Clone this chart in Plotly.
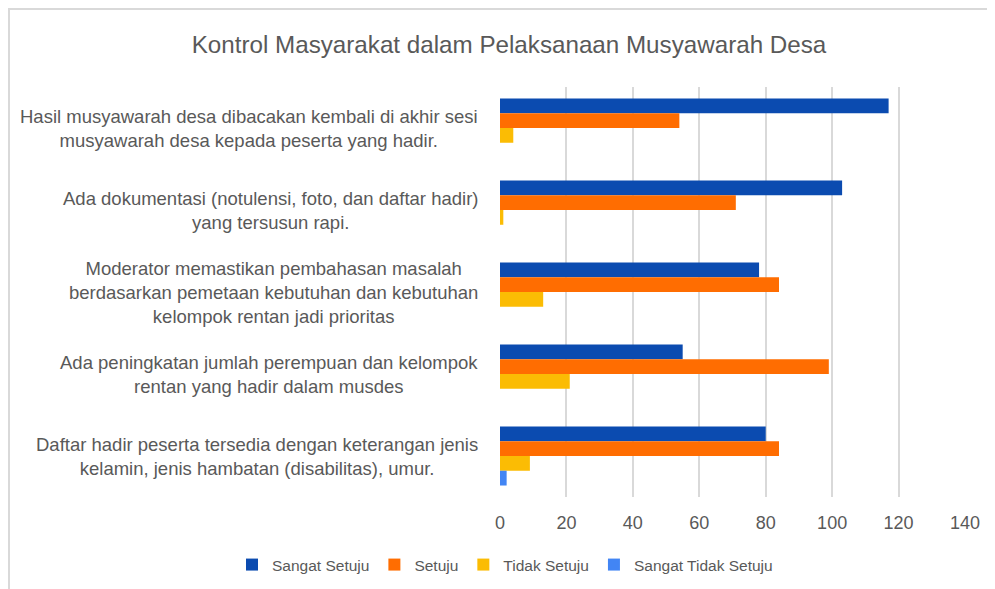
import plotly.graph_objects as go

categories = [
    "Hasil musyawarah desa dibacakan kembali di akhir sesi<br>musyawarah desa kepada peserta yang hadir.",
    "Ada dokumentasi (notulensi, foto, dan daftar hadir)<br>yang tersusun rapi.",
    "Moderator memastikan pembahasan masalah<br>berdasarkan pemetaan kebutuhan dan kebutuhan<br>kelompok rentan jadi prioritas",
    "Ada peningkatan jumlah perempuan dan kelompok<br>rentan yang hadir dalam musdes",
    "Daftar hadir peserta tersedia dengan keterangan jenis<br>kelamin, jenis hambatan (disabilitas), umur.",
]
series_names = ["Sangat Setuju", "Setuju", "Tidak Setuju", "Sangat Tidak Setuju"]
sangat_setuju = [117, 103, 78, 55, 80]
setuju = [54, 71, 84, 99, 84]
tidak_setuju = [4, 1, 13, 21, 9]
sangat_tidak_setuju = [0, 0, 0, 0, 2]
colors = ["#0b4bb0", "#ff6d01", "#fbbc04", "#4285f4"]
x_ticks = [0, 20, 40, 60, 80, 100, 120, 140]
title = "Kontrol Masyarakat dalam Pelaksanaan Musyawarah Desa"

# page body has an 8px margin; work in window pixels and shift
OFF = 8
WIN_W, WIN_H = 995, 589
W, H = WIN_W - OFF, WIN_H - OFF
PL, PR, PT, PB = 500, 965, 87, 497  # plot area in window pixels
L, R, T, B = PL - OFF, WIN_W - PR, PT - OFF, WIN_H - PB
PW, PH = PR - PL, PB - PT

def px_x(px):
    return (px - PL) / PW

def px_y(py):
    return (PB - py) / PH

def cx(px):
    return (px - OFF) / W

def cy(py):
    return 1 - (py - OFF) / H

FONT = "Liberation Sans, Arial, sans-serif"
GRAY = "#595959"

fig = go.Figure()
for name, vals, col in zip(series_names, [sangat_setuju, setuju, tidak_setuju, sangat_tidak_setuju], colors):
    fig.add_trace(go.Bar(
        y=categories, x=vals, name=name, orientation="h",
        marker=dict(color=col, line=dict(width=0)),
    ))

for c in categories:
    fig.add_annotation(
        x=px_x(480), xref="paper", y=c, yref="y",
        text=c, showarrow=False, xanchor="right", yanchor="middle", align="center",
        font=dict(family=FONT, size=18.5, color=GRAY),
    )

fig.add_shape(type="rect", xref="paper", yref="paper",
              x0=px_x(9), x1=px_x(1010), y0=px_y(640), y1=px_y(9),
              line=dict(color="#d9d9d9", width=2), fillcolor="rgba(0,0,0,0)", layer="below")

fig.update_layout(
    width=W, height=H,
    margin=dict(l=L, r=R, t=T, b=B, pad=0, autoexpand=False),
    paper_bgcolor="white", plot_bgcolor="white",
    barmode="group", bargap=0.28, bargroupgap=0,
    title=dict(text=title, xref="container", yref="container", x=cx(509), xanchor="center",
               y=cy(45), yanchor="middle",
               font=dict(family=FONT, size=24.2, color=GRAY)),
    xaxis=dict(range=[0, 140], tickvals=x_ticks, showgrid=True, gridcolor="#d9d9d9", gridwidth=2,
               zeroline=False, showline=False, ticks="outside", ticklen=9, tickcolor="rgba(0,0,0,0)",
               tickfont=dict(family=FONT, size=18, color=GRAY), fixedrange=True),
    yaxis=dict(autorange="reversed", showticklabels=False, showgrid=False, zeroline=False,
               showline=False, ticks=""),
    legend=dict(orientation="h", xref="paper", yref="paper", x=px_x(232), xanchor="left",
                y=px_y(565), yanchor="middle",
                font=dict(family=FONT, size=15.5, color=GRAY), itemwidth=30, traceorder="normal",
                bgcolor="rgba(0,0,0,0)"),
    showlegend=True,
)

fig.write_html("out.html")
